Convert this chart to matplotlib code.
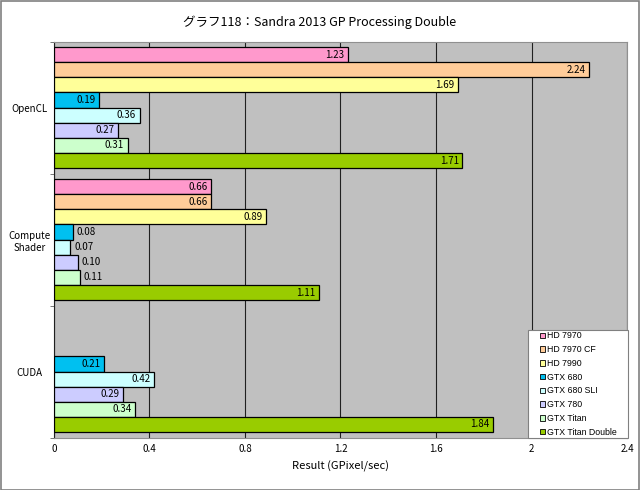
import numpy as np
import matplotlib.pyplot as plt
from matplotlib.patches import Rectangle

plt.rcParams['font.family'] = ['Noto Sans CJK JP', 'DejaVu Sans']

categories = ["OpenCL", "Compute\nShader", "CUDA"]
series = ["HD 7970", "HD 7970 CF", "HD 7990", "GTX 680", "GTX 680 SLI",
          "GTX 780", "GTX Titan", "GTX Titan Double"]
colors = ["#FF99CC", "#FFCC99", "#FFFF99", "#00C0F0", "#CCFFFF",
          "#CCCCFF", "#CCFFCC", "#99CC00"]
values = [
    [1.23, 0.66, None],
    [2.24, 0.66, None],
    [1.69, 0.89, None],
    [0.19, 0.08, 0.21],
    [0.36, 0.07, 0.42],
    [0.27, 0.10, 0.29],
    [0.31, 0.11, 0.34],
    [1.71, 1.11, 1.84],
]

fig = plt.figure(figsize=(6.4, 4.9), dpi=100)
ax = fig.add_axes([0.084, 0.106, 0.896, 0.808])
ax.set_facecolor("#C0C0C0")

n = len(series)
h = 0.1146
cat_pos = np.arange(len(categories))
for i, (name, col, vals) in enumerate(zip(series, colors, values)):
    ys = cat_pos + (i - (n - 1) / 2) * h - 0.004
    for y, v in zip(ys, vals):
        if v is None:
            continue
        ax.barh(y, v, height=h, color=col, edgecolor="black", linewidth=0.9, zorder=3)
        if v > 0.15:
            ax.text(v - 0.015, y, f"{v:.2f}", ha="right", va="center", fontsize=7, zorder=4)
        else:
            ax.text(v + 0.015, y, f"{v:.2f}", ha="left", va="center", fontsize=7, zorder=4)

ax.set_xlim(0, 2.4)
ax.set_ylim(len(categories) - 0.5, -0.5)
ax.set_xticks([0, 0.4, 0.8, 1.2, 1.6, 2.0, 2.4])
ax.set_xticklabels(["0", "0.4", "0.8", "1.2", "1.6", "2", "2.4"], fontsize=7)
ax.tick_params(axis="x", length=0, pad=4)
ax.set_yticks(cat_pos)
ax.set_yticklabels(categories, fontsize=7, ha="center", multialignment="center")
ax.tick_params(axis="y", length=0, pad=17.5)
ax.set_yticks([-0.5, 0.5, 1.5, 2.5], minor=True)
ax.tick_params(axis="y", which="minor", length=3, color="#606060")
ax.grid(axis="x", color="#202020", linewidth=0.8, zorder=1)
for s in ["top", "right", "bottom"]:
    ax.spines[s].set_color("#909090")
ax.spines["left"].set_color("#202020")

ax.set_xlabel("Result (GPixel/sec)", fontsize=8, labelpad=5)
fig.text(0.5, 0.955, "グラフ118：Sandra 2013 GP Processing Double",
         ha="center", va="center", fontsize=9)

# legend box drawn separately so the padding can be wider than it is tall
fig.patches.append(Rectangle((0.825, 0.106), 0.156, 0.2204, transform=fig.transFigure,
                             facecolor="white", edgecolor="#808080", linewidth=0.8, zorder=4))
handles = [Rectangle((0, 0), 1, 1, facecolor=c, edgecolor="black", linewidth=0.6) for c in colors]
leg = fig.legend(handles, series, loc="center", bbox_to_anchor=(0.9031, 0.2163),
                 prop={"family": "Liberation Sans", "size": 6.3}, frameon=False,
                 handlelength=0.6, handleheight=0.6, handletextpad=0.2, labelspacing=0.54,
                 borderpad=0, borderaxespad=0)
leg.set_zorder(6)

fig.patches.append(Rectangle((0.001, 0.001), 0.997, 0.997, transform=fig.transFigure,
                             fill=False, edgecolor="#808080", linewidth=1.2))

fig.savefig("out.png", dpi=100)
